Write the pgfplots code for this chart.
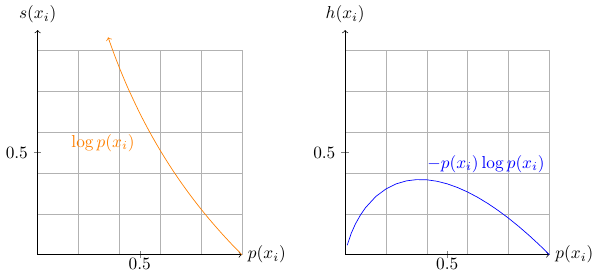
\documentclass[border=0pt]{standalone}
\usepackage{pgfplots}
\pgfplotsset{compat=1.18}
\begin{document}
\begin{tikzpicture}
\pgfplotsset{
  myaxis/.style={
    scale only axis,
    width=4.15cm, height=4.15cm,
    axis lines=middle,
    xmin=0, xmax=1, ymin=0, ymax=1,
    xtick={0.5}, ytick={0.5},
    minor xtick={0,0.2,0.4,0.6,0.8,1},
    minor ytick={0,0.2,0.4,0.6,0.8,1},
    grid=minor,
    minor grid style={gray!60, line width=0.3pt},
    minor tick length=0pt,
    clip=false,
    xticklabel style={yshift=3.5pt},
    x axis line style={->},
    y axis line style={->, shorten >=-0.415cm},
    xlabel={$p(x_i)$},
    x label style={at={(axis description cs:1,0)}, anchor=west},
    y label style={at={(axis description cs:0,1.1)}, anchor=south, rotate=0, yshift=0.5pt},
  }
}
\begin{axis}[myaxis, ylabel={$s(x_i)$}]
\addplot[orange, <-, smooth] coordinates {
(0.345,1.0642) (0.375,0.9808) (0.4,0.9163) (0.425,0.8557) (0.45,0.7985) (0.5,0.6931)
(0.55,0.5978) (0.6,0.5108) (0.65,0.4308) (0.7,0.3567) (0.75,0.2877)
(0.8,0.2231) (0.85,0.1625) (0.9,0.1054) (0.95,0.0513) (1,0)
};
\node[orange] at (axis cs:0.32,0.547) {$\log p(x_i)$};
\end{axis}
\begin{axis}[myaxis, at={(6.25cm,0)}, ylabel={$h(x_i)$}]
\addplot[blue] coordinates {
(0.01,0.0461) (0.03,0.1052) (0.05,0.1498) (0.075,0.1943) (0.1,0.2303)
(0.15,0.2846) (0.2,0.3219) (0.25,0.3466) (0.3,0.3612) (0.35,0.3674)
(0.4,0.3665) (0.45,0.3593) (0.5,0.3466) (0.55,0.3288) (0.6,0.3065)
(0.65,0.2800) (0.7,0.2497) (0.75,0.2158) (0.8,0.1785) (0.85,0.1381)
(0.9,0.0948) (0.95,0.0487) (1,0)
};
\node[blue] at (axis cs:0.69,0.445) {$-p(x_i)\log p(x_i)$};
\end{axis}
\end{tikzpicture}
\end{document}
